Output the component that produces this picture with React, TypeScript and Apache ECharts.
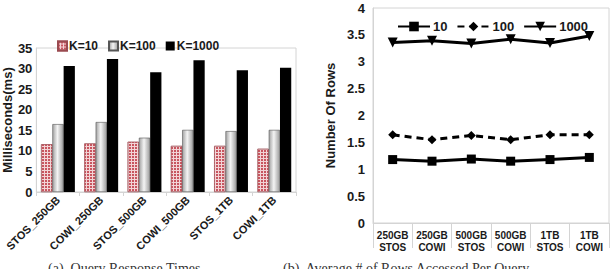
import React, { useEffect, useRef } from "react";
import * as echarts from "echarts";

// Query response times (ms)
const configs = ["STOS_250GB", "COWI_250GB", "STOS_500GB", "COWI_500GB", "STOS_1TB", "COWI_1TB"];
const k10 = [11.6, 11.8, 12.2, 11.2, 11.2, 10.5];
const k100 = [16.5, 17.0, 13.2, 15.1, 14.8, 15.1];
const k1000 = [30.6, 32.3, 29.1, 32.0, 29.6, 30.2];

// Average rows accessed per query
const rowCats = ["250GB\nSTOS", "250GB\nCOWI", "500GB\nSTOS", "500GB\nCOWI", "1TB\nSTOS", "1TB\nCOWI"];
const rows10 = [1.18, 1.15, 1.19, 1.15, 1.18, 1.22];
const rows100 = [1.64, 1.55, 1.63, 1.55, 1.64, 1.64];
const rows1000 = [3.36, 3.39, 3.34, 3.42, 3.35, 3.48];

const FONT = "Liberation Sans, Arial, sans-serif";
const AXIS_GRAY = "#d4d4d4";

export default function App() {
  const ref = useRef<HTMLDivElement>(null);

  useEffect(() => {
    if (!ref.current) return;
    const chart = echarts.init(ref.current, null, { renderer: "svg" });

    const grayGrad = new echarts.graphic.LinearGradient(0, 0, 1, 0, [
      { offset: 0, color: "#a3a3a3" },
      { offset: 0.45, color: "#f4f4f4" },
      { offset: 1, color: "#9c9c9c" },
    ]);

    const boldLabel = { fontFamily: FONT, fontWeight: "bold" as const, color: "#1a1a1a" };

    chart.setOption({
      animation: false,
      backgroundColor: "#ffffff",
      legend: [
        {
          data: ["K=10", "K=100", "K=1000"],
          left: 52,
          top: 35,
          itemWidth: 9,
          itemHeight: 9,
          itemGap: 10,
          icon: "rect",
          textStyle: { ...boldLabel, fontSize: 12, padding: [0, 0, 0, -3] },
        },
        {
          data: ["10", "100", "1000"],
          left: 392,
          top: 15,
          itemWidth: 32,
          itemHeight: 12,
          itemGap: 9,
          textStyle: { ...boldLabel, fontSize: 13, padding: [0, 0, 0, -2] },
        },
      ],
      grid: [
        { left: 33, right: 318, top: 48, bottom: 77, show: true, borderColor: AXIS_GRAY, borderWidth: 1 },
        { left: 373, right: 5, top: 8, bottom: 46, show: true, borderColor: AXIS_GRAY, borderWidth: 1 },
      ],
      xAxis: [
        {
          gridIndex: 0,
          type: "category",
          data: configs,
          axisLine: { lineStyle: { color: AXIS_GRAY } },
          axisTick: { show: true, length: 4, lineStyle: { color: AXIS_GRAY } },
          axisLabel: { ...boldLabel, fontSize: 11, rotate: 45, margin: 6, interval: 0 },
        },
        {
          gridIndex: 1,
          type: "category",
          data: rowCats,
          boundaryGap: true,
          axisLine: { lineStyle: { color: AXIS_GRAY } },
          axisTick: { show: true, length: 25, lineStyle: { color: AXIS_GRAY } },
          axisLabel: { ...boldLabel, fontSize: 10, margin: 6, lineHeight: 12, interval: 0 },
        },
      ],
      yAxis: [
        {
          gridIndex: 0,
          type: "value",
          min: 0,
          max: 35,
          interval: 5,
          name: "Milliseconds(ms)",
          nameLocation: "middle",
          nameGap: 20,
          nameTextStyle: { ...boldLabel, fontSize: 13 },
          axisLine: { show: true, lineStyle: { color: AXIS_GRAY } },
          axisTick: { show: false },
          splitLine: { show: false },
          axisLabel: { ...boldLabel, fontSize: 13, margin: 4 },
        },
        {
          gridIndex: 1,
          type: "value",
          min: 0,
          max: 4,
          interval: 0.5,
          name: "Number Of Rows",
          nameLocation: "middle",
          nameGap: 36,
          nameTextStyle: { ...boldLabel, fontSize: 13 },
          axisLine: { show: true, lineStyle: { color: AXIS_GRAY } },
          axisTick: { show: false },
          splitLine: { show: false },
          axisLabel: { ...boldLabel, fontSize: 13, margin: 8 },
        },
      ],
      series: [
        {
          name: "K=10",
          type: "bar",
          xAxisIndex: 0,
          yAxisIndex: 0,
          data: k10,
          barGap: "0%",
          barCategoryGap: "22%",
          itemStyle: {
            color: "#f2d4d6",
            borderColor: "#9a4a50",
            borderWidth: 0.5,
            decal: {
              symbol: "rect",
              symbolSize: 1,
              color: "#c8555f",
              dashArrayX: [2, 1],
              dashArrayY: [2, 1],
              rotation: 0,
            },
          },
        },
        {
          name: "K=100",
          type: "bar",
          xAxisIndex: 0,
          yAxisIndex: 0,
          data: k100,
          barGap: "0%",
          barCategoryGap: "22%",
          itemStyle: { color: grayGrad, borderColor: "#555555", borderWidth: 0.6 },
        },
        {
          name: "K=1000",
          type: "bar",
          xAxisIndex: 0,
          yAxisIndex: 0,
          data: k1000,
          barGap: "0%",
          barCategoryGap: "22%",
          itemStyle: { color: "#000000" },
        },
        {
          name: "10",
          type: "line",
          xAxisIndex: 1,
          yAxisIndex: 1,
          data: rows10,
          symbol: "rect",
          symbolSize: 9,
          lineStyle: { color: "#000", width: 3 },
          itemStyle: { color: "#000" },
        },
        {
          name: "100",
          type: "line",
          xAxisIndex: 1,
          yAxisIndex: 1,
          data: rows100,
          symbol: "diamond",
          symbolSize: 9,
          lineStyle: { color: "#000", width: 3, type: [7, 5] },
          itemStyle: { color: "#000" },
        },
        {
          name: "1000",
          type: "line",
          xAxisIndex: 1,
          yAxisIndex: 1,
          data: rows1000,
          symbol: "triangle",
          symbolRotate: 180,
          symbolSize: 10,
          lineStyle: { color: "#000", width: 3 },
          itemStyle: { color: "#000" },
        },
      ],
      graphic: [
        {
          type: "text",
          left: 48,
          top: 261,
          style: { text: "(a)  Query Response Times", font: "14px 'Liberation Serif', serif", fill: "#333" },
        },
        {
          type: "text",
          left: 283,
          top: 261,
          style: {
            text: "(b)  Average # of Rows Accessed Per Query",
            font: "14px 'Liberation Serif', serif",
            fill: "#333",
          },
        },
      ],
    });

    return () => chart.dispose();
  }, []);

  return (
    <div
      ref={ref}
      style={{ position: "fixed", left: 0, top: 0, width: 614, height: 269, overflow: "hidden" }}
    />
  );
}
